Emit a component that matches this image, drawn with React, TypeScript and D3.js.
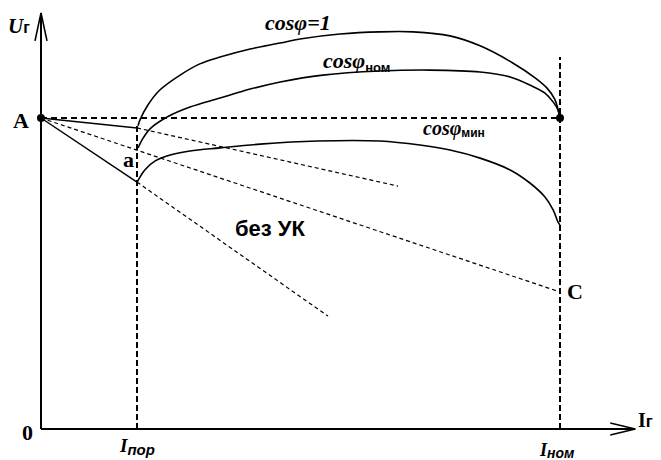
import React from "react";
import * as d3 from "d3";

// Data (I in % of I_nom, U in % of U at point A)
const I_POR = 18.5;
const I_NOM = 100;
const U_A = 100;
const AXIS_I_MAX = 114.5;
const AXIS_U_MAX = 133.8;

const cosOne: [number, number][] = [
  [18.7, 97.5], [19.1, 99.5], [20.6, 104.2], [22.9, 109.0], [26.8, 113.8], [30.6, 117.4],
  [34.5, 119.6], [40.3, 122.2], [46.1, 124.1], [49.9, 125.4], [57.6, 127.0],
  [65.3, 127.7], [71.7, 127.7], [78.8, 126.4], [84.6, 123.2], [90.9, 117.7],
  [95.2, 112.9], [97.5, 109.6], [99.0, 106.0], [100, 100],
];
const cosNom: [number, number][] = [
  [18.7, 90.4], [19.7, 93.6], [21.0, 96.5], [24.3, 100.3], [28.7, 103.5],
  [34.5, 106.4], [40.3, 109.3], [46.1, 111.6], [54.3, 113.8], [65.3, 115.1],
  [74.9, 115.4], [84.6, 114.8], [90.4, 113.2], [94.2, 110.6], [97.1, 108.0],
  [98.7, 105.1], [99.6, 102.6], [100, 100],
];
const cosMin: [number, number][] = [
  [18.6, 79.6], [20.0, 83.3], [22.0, 86.2], [24.9, 88.1], [28.7, 89.4], [34.5, 90.4],
  [42.2, 91.6], [53.2, 92.6], [65.3, 92.6], [73.0, 91.3], [78.8, 89.7],
  [84.6, 87.1], [90.4, 83.3], [94.2, 79.1], [97.1, 74.6], [98.7, 70.4],
  [99.6, 66.6], [100, 65.6],
];
// straight characteristic lines from point A
const line1Solid: [number, number][] = [[0, 100], [18.5, 96.8]];
const line1Dash: [number, number][] = [[18.5, 96.8], [68.8, 78.1]];
const line2Dash: [number, number][] = [[0, 100], [99.4, 44.4]];
const line3Solid: [number, number][] = [[0, 100], [18.5, 79.4]];
const line3Dash: [number, number][] = [[18.5, 79.4], [55.3, 36.3]];
const vPorTop = 97.7;
const vNomTop = 119.6;

const W = 661;
const H = 460;

export default function App() {
  const x = d3.scaleLinear().domain([0, 100]).range([41, 560]);
  const y = d3.scaleLinear().domain([0, 100]).range([429, 118]);
  const curve = d3
    .line<[number, number]>()
    .x((d) => x(d[0]))
    .y((d) => y(d[1]))
    .curve(d3.curveCatmullRom.alpha(0.5));
  const straight = d3
    .line<[number, number]>()
    .x((d) => x(d[0]))
    .y((d) => y(d[1]));

  const serif = "'Liberation Serif', 'Times New Roman', serif";
  const sans = "'Liberation Sans', Arial, sans-serif";

  const x0 = x(0), y0 = y(0);
  const xEnd = x(AXIS_I_MAX), yEnd = y(AXIS_U_MAX);

  return (
    <svg
      width={W}
      height={H}
      style={{ position: "absolute", left: 0, top: 0, background: "#fff" }}
    >
      {/* axes */}
      <g stroke="#000" strokeWidth={2} fill="none">
        <line x1={x0} y1={y0} x2={x0} y2={yEnd} />
        <line x1={x0} y1={y0} x2={xEnd} y2={y0} />
        <polyline points={`${x0 - 6},${yEnd + 28} ${x0},${yEnd} ${x0 + 6},${yEnd + 28}`} strokeWidth={1.6} />
        <polyline points={`${xEnd - 25},${y0 - 6} ${xEnd},${y0} ${xEnd - 25},${y0 + 6}`} strokeWidth={1.6} />
      </g>

      {/* reference dashed lines */}
      <g stroke="#000" fill="none">
        <line x1={x(0)} y1={y(U_A)} x2={x(I_NOM)} y2={y(U_A)} strokeWidth={2} strokeDasharray="6,4" />
        <line x1={x(I_POR)} y1={y0} x2={x(I_POR)} y2={y(vPorTop)} strokeWidth={2} strokeDasharray="6,3" />
        <line x1={x(I_NOM)} y1={y0} x2={x(I_NOM)} y2={y(vNomTop)} strokeWidth={2} strokeDasharray="6,3" />
      </g>

      {/* lines from A */}
      <g stroke="#000" fill="none">
        <path d={straight(line1Solid) || ""} strokeWidth={1.5} />
        <path d={straight(line1Dash) || ""} strokeWidth={1.2} strokeDasharray="4,3" />
        <path d={straight(line2Dash) || ""} strokeWidth={1.2} strokeDasharray="4,3" />
        <path d={straight(line3Solid) || ""} strokeWidth={1.5} />
        <path d={straight(line3Dash) || ""} strokeWidth={1.2} strokeDasharray="4,3" />
      </g>

      {/* curves */}
      <g stroke="#000" fill="none" strokeWidth={1.6}>
        <path d={curve(cosOne) || ""} />
        <path d={curve(cosNom) || ""} />
        <path d={curve(cosMin) || ""} />
      </g>

      {/* points */}
      <circle cx={x(0)} cy={y(U_A)} r={4} fill="#000" />
      <circle cx={x(I_NOM)} cy={y(U_A)} r={4} fill="#000" />

      {/* labels */}
      <g fill="#000">
        <text x={8} y={33} fontFamily={serif} fontWeight="bold" fontStyle="italic" fontSize={21}>
          U<tspan fontFamily={sans} fontStyle="normal" fontSize={16}>г</tspan>
        </text>
        <text x={13} y={128} fontFamily={serif} fontWeight="bold" fontSize={22}>A</text>
        <text x={123} y={167} fontFamily={serif} fontWeight="bold" fontSize={22}>a</text>
        <text x={567} y={299} fontFamily={serif} fontWeight="bold" fontSize={22}>C</text>
        <text x={22} y={440} fontFamily={serif} fontWeight="bold" fontSize={22}>0</text>
        <text x={120} y={452} fontFamily={serif} fontWeight="bold" fontStyle="italic" fontSize={19}>
          I<tspan fontFamily={sans} fontSize={15} dy={3}>пор</tspan>
        </text>
        <text x={540} y={456} fontFamily={serif} fontWeight="bold" fontStyle="italic" fontSize={18}>
          I<tspan fontFamily={sans} fontSize={14} dy={2}>ном</tspan>
        </text>
        <text x={638} y={427} fontFamily={serif} fontWeight="bold" fontSize={20}>
          I<tspan fontFamily={sans} fontSize={17}>г</tspan>
        </text>
        <text x={265} y={30} fontFamily={serif} fontWeight="bold" fontStyle="italic" fontSize={22}>
          cosφ=1
        </text>
        <text x={323} y={68} fontFamily={serif} fontWeight="bold" fontStyle="italic" fontSize={22}>
          cosφ<tspan fontFamily={sans} fontStyle="normal" fontSize={13} dy={4}>ном</tspan>
        </text>
        <text x={423} y={135} fontFamily={serif} fontWeight="bold" fontStyle="italic" fontSize={20}>
          cosφ<tspan fontFamily={sans} fontStyle="normal" fontSize={12} dy={2}>мин</tspan>
        </text>
        <text x={235} y={236} fontFamily={sans} fontWeight="bold" fontSize={22}>без УК</text>
      </g>
    </svg>
  );
}
